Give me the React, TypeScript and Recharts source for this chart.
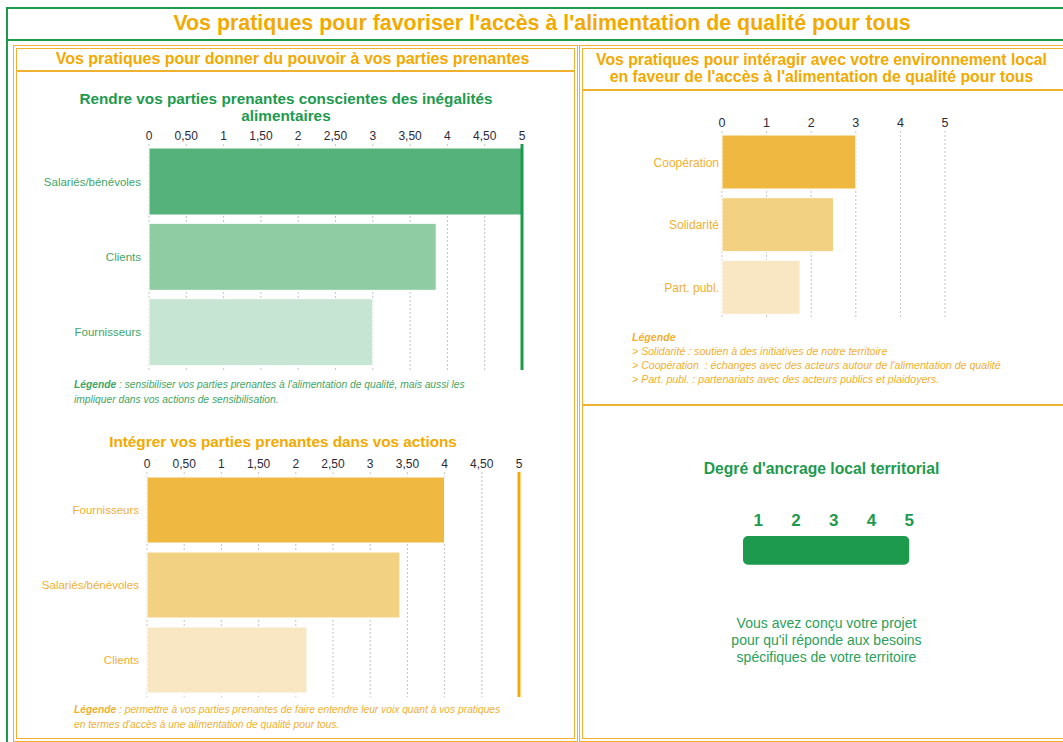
import React from 'react';
import { BarChart, Bar, XAxis, YAxis, CartesianGrid, ReferenceLine, Cell } from 'recharts';

// Rendre vos parties prenantes conscientes des inégalités alimentaires
const rendreCategories = ['Salariés/bénévoles', 'Clients', 'Fournisseurs'];
const rendreValues = [5, 3.85, 3];

// Intégrer vos parties prenantes dans vos actions
const integrerCategories = ['Fournisseurs', 'Salariés/bénévoles', 'Clients'];
const integrerValues = [4, 3.4, 2.15];

// Interagir avec l'environnement local
const localCategories = ['Coopération', 'Solidarité', 'Part. publ.'];
const localValues = [3, 2.5, 1.75];

// Degré d'ancrage local territorial
const ancrageLevels = [1, 2, 3, 4, 5];
const ancrageValue = 5;

const halfTicks = [0, 0.5, 1, 1.5, 2, 2.5, 3, 3.5, 4, 4.5, 5];
const unitTicks = [0, 1, 2, 3, 4, 5];

const GREEN = '#1E9A4E';
const GREEN_LABEL = '#3FA566';
const ORANGE = '#F2A900';
const ORANGE_LINE = '#F0B22E';
const ORANGE_LABEL = '#F0B030';
const greenShades = ['#55B27A', '#8FCCA4', '#C7E5D3'];
const orangeShades = ['#EFB941', '#F3D183', '#F8E7C2'];

const fmtFr = (v: number) => (Number.isInteger(v) ? String(v) : v.toFixed(2).replace('.', ','));

const toRows = (names: string[], values: number[]) => names.map((name, i) => ({ name, value: values[i] }));

function HBar(props: {
  data: { name: string; value: number }[];
  colors: string[];
  ticks: number[];
  labelColor: string;
  width: number;
  height: number;
  yWidth: number;
  barSize: number;
  refColor?: string;
  tickFont: number;
  labelFont: number;
  yTickSize?: number;
  formatter?: (v: number) => string;
}) {
  const { data, colors, ticks, labelColor, width, height, yWidth, barSize, refColor, tickFont, labelFont, formatter } = props;
  const yTickSize = props.yTickSize ?? 6;
  return (
    <BarChart layout="vertical" width={width} height={height} data={data} margin={{ top: 0, right: 10, bottom: 0, left: 0 }} barSize={barSize}>
      <CartesianGrid horizontal={false} strokeDasharray="2 2" stroke="#c4c4c4" />
      <XAxis
        type="number"
        orientation="top"
        domain={[0, 5]}
        ticks={ticks}
        interval={0}
        tickFormatter={formatter}
        axisLine={false}
        tickLine={false}
        tickSize={2}
        tickMargin={2}
        height={20}
        tick={{ fontSize: tickFont, fill: '#2b2b3a' }}
      />
      <YAxis
        type="category"
        dataKey="name"
        width={yWidth}
        axisLine={false}
        tickLine={false}
        tickSize={yTickSize}
        tickMargin={2}
        tick={{ fontSize: labelFont, fill: labelColor }}
      />
      {refColor && <ReferenceLine x={5} stroke={refColor} strokeWidth={3} />}
      <Bar dataKey="value" isAnimationActive={false} stroke="#ffffff" strokeWidth={1}>
        {data.map((d, i) => (
          <Cell key={d.name} fill={colors[i]} />
        ))}
      </Bar>
    </BarChart>
  );
}

const abs = (s: React.CSSProperties): React.CSSProperties => ({ position: 'absolute', ...s });

export default function App() {
  const gaugeData = [{ name: 'niveau', value: ancrageValue }];
  return (
    <div
      style={{
        position: 'absolute',
        left: 0,
        top: 0,
        width: 1063,
        height: 742,
        overflow: 'hidden',
        background: '#fff',
        fontFamily: 'Arial, "Liberation Sans", sans-serif',
      }}
    >
      {/* frames */}
      <div style={abs({ left: 6, top: 7, width: 1120, height: 800, border: `2px solid ${GREEN}`, boxSizing: 'border-box' })} />
      <div style={abs({ left: 6, top: 39, width: 1120, height: 2, background: GREEN })} />
      <div style={abs({ left: 13, top: 45, width: 565, height: 697, border: `4px double ${ORANGE_LINE}`, boxSizing: 'border-box' })} />
      <div style={abs({ left: 579, top: 45, width: 600, height: 697, border: `4px double ${ORANGE_LINE}`, boxSizing: 'border-box' })} />
      <div style={abs({ left: 17, top: 70, width: 557, height: 2, background: ORANGE_LINE })} />
      <div style={abs({ left: 583, top: 89, width: 600, height: 2, background: ORANGE_LINE })} />
      <div style={abs({ left: 583, top: 404, width: 600, height: 2, background: ORANGE_LINE })} />

      {/* titles */}
      <div style={abs({ left: 0, top: 11, width: 1084, textAlign: 'center', fontSize: 21.4, lineHeight: '25px', fontWeight: 'bold', color: ORANGE, whiteSpace: 'nowrap' })}>
        Vos pratiques pour favoriser l'accès à l'alimentation de qualité pour tous
      </div>
      <div style={abs({ left: 0, top: 49.5, width: 585, textAlign: 'center', fontSize: 16, lineHeight: '18px', fontWeight: 'bold', color: ORANGE, whiteSpace: 'nowrap' })}>
        Vos pratiques pour donner du pouvoir à vos parties prenantes
      </div>
      <div style={abs({ left: 580, top: 51, width: 483, textAlign: 'center', fontSize: 15.8, lineHeight: '17px', fontWeight: 'bold', color: ORANGE, whiteSpace: 'nowrap' })}>
        Vos pratiques pour intéragir avec votre environnement local
        <br />
        en faveur de l'accès à l'alimentation de qualité pour tous
      </div>

      {/* chart 1 */}
      <div style={abs({ left: 0, top: 89.5, width: 572, textAlign: 'center', fontSize: 15.3, lineHeight: '17px', fontWeight: 'bold', color: GREEN, whiteSpace: 'nowrap' })}>
        Rendre vos parties prenantes conscientes des inégalités
        <br />
        alimentaires
      </div>
      <div style={abs({ left: 20, top: 124 })}>
        <HBar
          data={toRows(rendreCategories, rendreValues)}
          colors={greenShades}
          ticks={halfTicks}
          formatter={fmtFr}
          labelColor={GREEN_LABEL}
          width={512}
          height={246}
          yWidth={129}
          barSize={67}
          refColor={GREEN}
          tickFont={12}
          labelFont={11.5}
        />
      </div>
      <div style={abs({ left: 74, top: 378, fontSize: 10.25, lineHeight: '14.5px', fontStyle: 'italic', color: GREEN_LABEL, whiteSpace: 'nowrap' })}>
        <b>Légende</b> : sensibiliser vos parties prenantes à l'alimentation de qualité, mais aussi les
        <br />
        impliquer dans vos actions de sensibilisation.
      </div>

      {/* chart 2 */}
      <div style={abs({ left: 0, top: 433, width: 566, textAlign: 'center', fontSize: 15.3, lineHeight: '17px', fontWeight: 'bold', color: ORANGE, whiteSpace: 'nowrap' })}>
        Intégrer vos parties prenantes dans vos actions
      </div>
      <div style={abs({ left: 18, top: 452 })}>
        <HBar
          data={toRows(integrerCategories, integrerValues)}
          colors={orangeShades}
          ticks={halfTicks}
          formatter={fmtFr}
          labelColor={ORANGE_LABEL}
          width={511}
          height={245}
          yWidth={129}
          barSize={66}
          refColor={ORANGE}
          tickFont={12}
          labelFont={11.5}
        />
      </div>
      <div style={abs({ left: 74, top: 703, fontSize: 10.25, lineHeight: '14.5px', fontStyle: 'italic', color: ORANGE_LABEL, whiteSpace: 'nowrap' })}>
        <b>Légende</b> : permettre à vos parties prenantes de faire entendre leur voix quant à vos pratiques
        <br />
        en termes d'accès à une alimentation de qualité pour tous.
      </div>

      {/* chart 3 */}
      <div style={abs({ left: 590, top: 111 })}>
        <HBar
          data={toRows(localCategories, localValues)}
          colors={orangeShades}
          ticks={unitTicks}
          labelColor={ORANGE_LABEL}
          width={365}
          height={208}
          yWidth={132}
          barSize={54}
          tickFont={12.5}
          labelFont={12}
          yTickSize={1}
        />
      </div>
      <div style={abs({ left: 632, top: 330, fontSize: 10.6, lineHeight: '14px', fontStyle: 'italic', color: ORANGE_LABEL, whiteSpace: 'nowrap' })}>
        <b>Légende</b>
        <br />
        &gt; Solidarité : soutien à des initiatives de notre territoire
        <br />
        &gt; Coopération &nbsp;: échanges avec des acteurs autour de l'alimentation de qualité
        <br />
        &gt; Part. publ. : partenariats avec des acteurs publics et plaidoyers.
      </div>

      {/* gauge */}
      <div style={abs({ left: 580, top: 458.5, width: 483, textAlign: 'center', fontSize: 15.7, lineHeight: '19px', fontWeight: 'bold', color: GREEN, whiteSpace: 'nowrap' })}>
        Degré d'ancrage local territorial
      </div>
      <div style={abs({ left: 733, top: 504 })}>
        <BarChart layout="vertical" width={200} height={63} data={gaugeData} margin={{ top: 10, right: 20, bottom: 1, left: 10 }} barSize={32}>
          <XAxis
            type="number"
            orientation="top"
            domain={[0.6, 5.1]}
            ticks={ancrageLevels}
            interval={0}
            axisLine={false}
            tickLine={false}
            height={20}
            tick={{ fontSize: 17, fill: GREEN, fontWeight: 'bold' }}
          />
          <YAxis type="category" dataKey="name" hide />
          <Bar dataKey="value" fill={GREEN} radius={5} isAnimationActive={false} />
        </BarChart>
      </div>
      <div style={abs({ left: 585, top: 614.5, width: 483, textAlign: 'center', fontSize: 14, lineHeight: '17px', color: '#2BA05A' })}>
        Vous avez conçu votre projet
        <br />
        pour qu'il réponde aux besoins
        <br />
        spécifiques de votre territoire
      </div>
    </div>
  );
}
